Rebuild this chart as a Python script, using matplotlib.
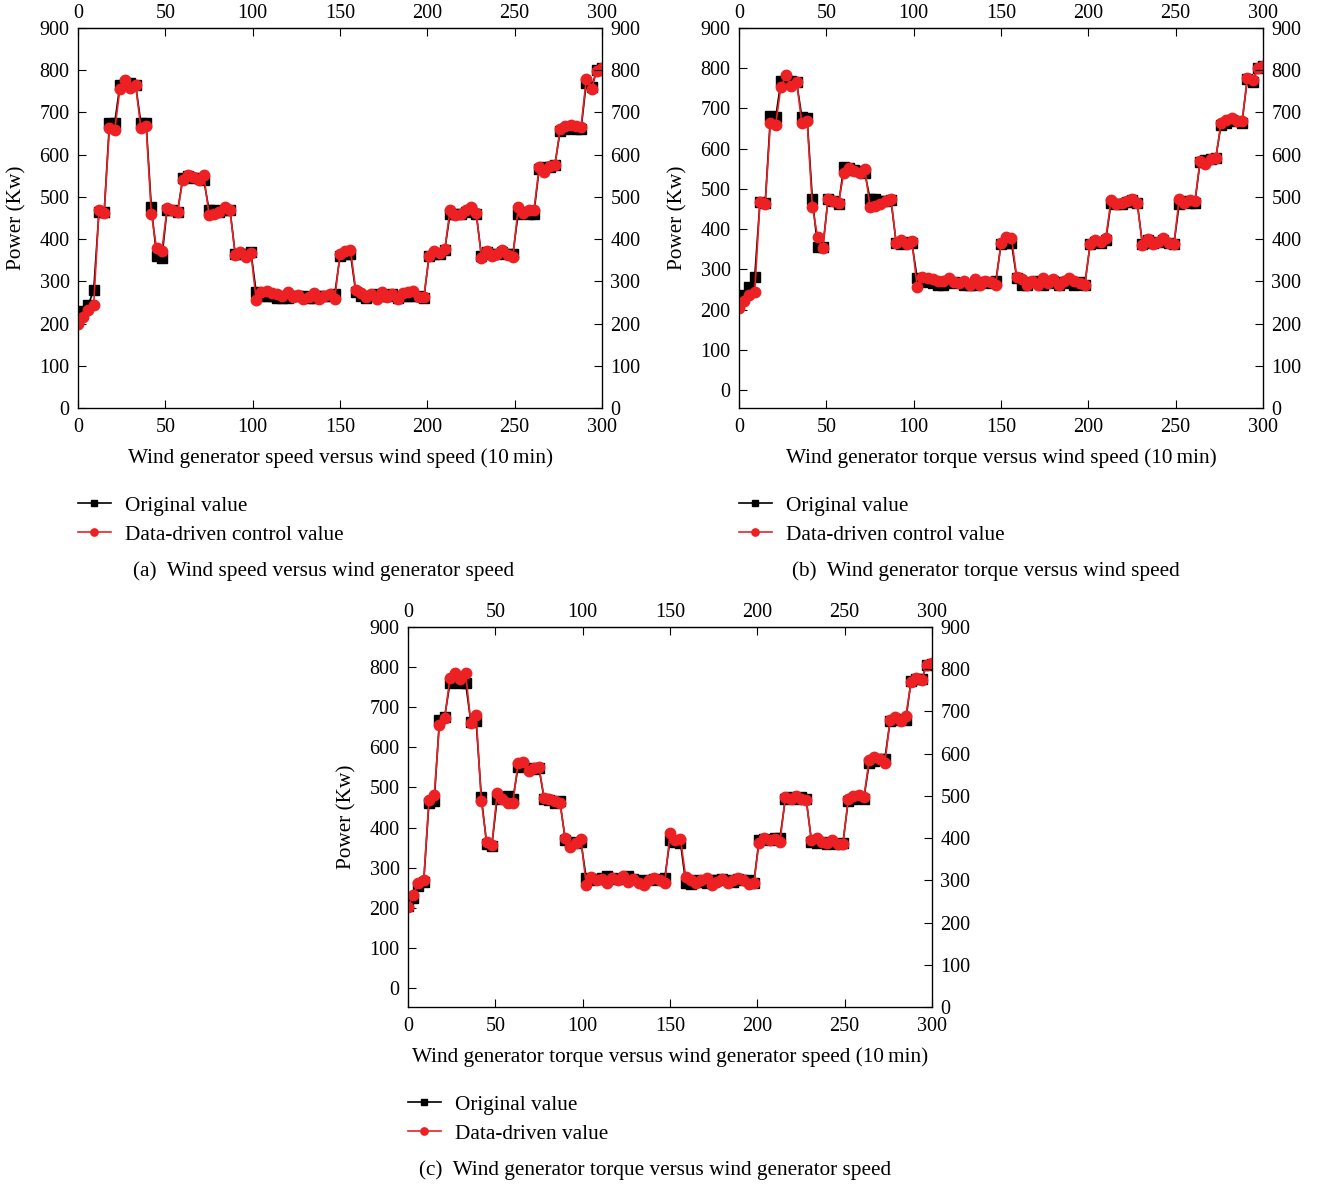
import matplotlib
matplotlib.use("Agg")
import matplotlib.pyplot as plt

plt.rcParams['font.family'] = ['Liberation Serif', 'DejaVu Serif']

minutes = list(range(0, 301, 3))
x_ticks = [0, 50, 100, 150, 200, 250, 300]
y_ticks = [0, 100, 200, 300, 400, 500, 600, 700, 800, 900]

orig_a = [210, 230, 245, 280, 465, 465, 675, 675, 765, 770,
          770, 765, 675, 675, 475, 360, 355, 470, 470, 465,
          545, 550, 545, 545, 540, 470, 470, 465, 470, 470,
          365, 365, 365, 370, 275, 265, 265, 265, 260, 260,
          260, 265, 265, 265, 260, 260, 265, 265, 265, 270,
          360, 365, 365, 275, 265, 260, 265, 270, 265, 265,
          270, 260, 265, 265, 265, 265, 260, 360, 365, 365,
          375, 460, 460, 460, 465, 470, 460, 360, 370, 365,
          365, 370, 365, 365, 460, 465, 460, 460, 565, 570,
          570, 575, 655, 660, 665, 660, 660, 770, 760, 800,
          805]
ctrl_a = [200, 215, 232, 245, 468, 463, 662, 658, 755, 778,
          758, 765, 662, 668, 460, 378, 372, 473, 468, 465,
          540, 553, 548, 540, 552, 458, 460, 465, 475, 470,
          362, 370, 358, 368, 255, 275, 278, 272, 270, 265,
          275, 262, 268, 258, 262, 272, 258, 265, 270, 258,
          365, 372, 375, 280, 272, 262, 270, 258, 275, 262,
          270, 258, 272, 275, 278, 262, 262, 360, 372, 366,
          376, 470, 458, 460, 468, 475, 462, 355, 372, 360,
          365, 375, 362, 358, 475, 462, 470, 468, 570, 558,
          572, 575, 660, 668, 670, 668, 666, 780, 755, 798,
          805]

orig_b = [225, 235, 255, 282, 468, 465, 680, 678, 767, 770,
          768, 765, 678, 675, 476, 355, 355, 476, 470, 462,
          555, 552, 548, 545, 540, 476, 476, 470, 470, 472,
          365, 362, 368, 365, 278, 268, 270, 265, 262, 262,
          265, 268, 265, 262, 260, 262, 265, 268, 265, 270,
          362, 365, 365, 278, 262, 262, 268, 272, 262, 265,
          272, 262, 268, 265, 262, 268, 262, 362, 368, 365,
          372, 465, 462, 462, 468, 472, 465, 362, 372, 365,
          368, 372, 365, 362, 462, 470, 465, 465, 568, 572,
          575, 578, 660, 665, 672, 668, 665, 772, 765, 800,
          805]
ctrl_b = [203, 220, 235, 244, 468, 462, 663, 660, 754, 783,
          755, 765, 663, 670, 456, 381, 352, 476, 470, 466,
          539, 553, 545, 540, 550, 456, 458, 462, 470, 476,
          365, 372, 362, 370, 257, 280, 278, 275, 272, 270,
          278, 268, 265, 270, 262, 275, 260, 272, 268, 262,
          365, 381, 378, 282, 275, 262, 272, 260, 278, 265,
          275, 262, 270, 278, 272, 265, 262, 362, 372, 368,
          378, 472, 462, 465, 470, 476, 465, 360, 375, 362,
          368, 378, 365, 362, 476, 465, 472, 470, 570, 562,
          575, 578, 665, 672, 675, 670, 668, 775, 770, 800,
          805]

orig_c = [205, 225, 255, 265, 462, 465, 668, 676, 760, 765,
          760, 760, 662, 665, 476, 360, 355, 470, 475, 478,
          470, 550, 555, 548, 545, 548, 470, 468, 462, 465,
          370, 365, 362, 365, 275, 270, 272, 275, 278, 275,
          272, 275, 278, 272, 268, 265, 270, 272, 268, 275,
          368, 365, 362, 262, 260, 268, 265, 262, 270, 268,
          272, 268, 265, 272, 270, 268, 262, 370, 372, 368,
          375, 375, 470, 475, 472, 475, 470, 365, 362, 365,
          360, 362, 358, 362, 465, 470, 475, 472, 560, 565,
          570, 572, 665, 668, 670, 668, 765, 770, 770, 805,
          808]
ctrl_c = [203, 232, 262, 269, 469, 481, 656, 673, 772, 785,
          770, 785, 660, 681, 465, 365, 356, 485, 470, 462,
          460, 560, 563, 540, 548, 550, 473, 470, 465, 462,
          373, 352, 362, 372, 257, 277, 268, 272, 262, 275,
          270, 278, 265, 272, 262, 258, 268, 275, 270, 262,
          386, 369, 372, 277, 270, 262, 268, 275, 258, 265,
          272, 262, 270, 275, 268, 260, 262, 362, 375, 368,
          372, 365, 475, 470, 478, 472, 468, 368, 375, 365,
          362, 370, 360, 358, 470, 478, 482, 475, 568, 575,
          572, 560, 668, 675, 665, 678, 762, 772, 768, 806,
          810]

W, H = 1317, 1185
fig = plt.figure(figsize=(W / 100, H / 100), dpi=100)
RED = '#ED2024'
FS = 15.3
TFS = 14.5


def fx(p):
    return p / W


def fy(p):
    return 1 - p / H


def panel(left, top, orig, ctrl, left_ymin, xlabel, labels, caption, cap_cx):
    ax = fig.add_axes([fx(left), fy(top + 380), 524 / W, 380 / H])
    l1, = ax.plot(minutes, orig, color='black', lw=1.2, marker='s', ms=6.5,
                  mfc='black', mec='black', zorder=2)
    l2, = ax.plot(minutes, ctrl, color=RED, lw=1.2, marker='o', ms=7.5,
                  mfc=RED, mec=RED, zorder=3)
    ax.set_xlim(0, 300)
    ax.set_ylim(left_ymin, 900)
    ax.set_xticks(x_ticks)
    ax.set_yticks(y_ticks)
    ax.tick_params(axis='y', direction='in', length=6, width=0.8, labelsize=TFS, pad=6)
    ax.tick_params(axis='x', direction='in', length=6, width=0.8, labelsize=TFS,
                   top=False, labeltop=False, pad=7.5)
    for s in ax.spines.values():
        s.set_linewidth(0.9)
    sec = ax.secondary_xaxis('top')
    sec.set_xticks(x_ticks)
    sec.tick_params(axis='x', direction='in', length=6, width=0.8, labelsize=TFS, pad=3.5)
    ax2 = ax.twinx()
    ax2.set_ylim(0, 900)
    ax2.set_yticks(y_ticks)
    ax2.tick_params(axis='y', direction='in', length=6, width=0.8, labelsize=TFS, pad=6)
    cx = left + 262
    fig.text(fx(cx), fy(458 + top - 28), xlabel, ha='center', va='center', fontsize=FS)
    fig.text(fx(left - 61), fy(top + 190), 'Power (Kw)', rotation=90,
             ha='center', va='center', fontsize=FS)
    fig.legend([l1, l2], labels, loc='upper left',
               bbox_to_anchor=(fx(left), fy(top + 468)),
               frameon=False, fontsize=FS, handlelength=1.55, handletextpad=0.65,
               labelspacing=0.42, borderpad=0, borderaxespad=0, markerscale=0.7)
    fig.text(fx(cap_cx), fy(571 + top - 28), caption, ha='center', va='center', fontsize=FS)


panel(78, 28, orig_a, ctrl_a, 0,
      'Wind generator speed versus wind speed (10\u2009min)',
      ['Original value', 'Data-driven control value'],
      '(a)  Wind speed versus wind generator speed', 324)
panel(739, 28, orig_b, ctrl_b, -44.8,
      'Wind generator torque versus wind speed (10\u2009min)',
      ['Original value', 'Data-driven control value'],
      '(b)  Wind generator torque versus wind speed', 986)
panel(408, 627, orig_c, ctrl_c, -47.4,
      'Wind generator torque versus wind generator speed (10\u2009min)',
      ['Original value', 'Data-driven value'],
      '(c)  Wind generator torque versus wind generator speed', 655)

fig.savefig('out.png', dpi=100)
